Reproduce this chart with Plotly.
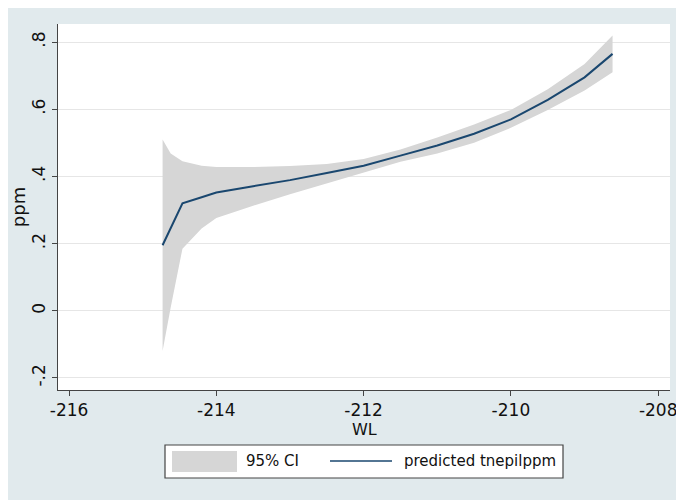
import plotly.graph_objects as go

# values
wl = [-214.73, -214.62, -214.46, -214.2, -214.0, -213.5, -213.0, -212.5,
      -212.0, -211.5, -211.0, -210.5, -210.0, -209.5, -209.0, -208.62]
predicted = [0.195, 0.245, 0.320, 0.338, 0.352, 0.371, 0.389, 0.410,
             0.432, 0.462, 0.492, 0.527, 0.570, 0.628, 0.695, 0.765]
ci_upper = [0.510, 0.468, 0.445, 0.432, 0.428, 0.428, 0.431, 0.437,
            0.452, 0.480, 0.516, 0.555, 0.598, 0.660, 0.735, 0.820]
ci_lower = [-0.120, 0.010, 0.185, 0.245, 0.276, 0.313, 0.347, 0.380,
            0.412, 0.444, 0.468, 0.500, 0.545, 0.598, 0.656, 0.710]

y_ticks = [-0.2, 0, 0.2, 0.4, 0.6, 0.8]
y_tick_labels = ["-.2", "0", ".2", ".4", ".6", ".8"]
x_ticks = [-216, -214, -212, -210, -208]

BG = "#e1eaed"
BAND = "#d6d6d6"
NAVY = "#1a476f"
AXIS = "#444444"
FONT = "DejaVu Sans"

# page has an 8px body margin; figure is 676x492
W, H = 676, 492
L, R, T, B = 50, 14, 16, 110
PW, PH = W - L - R, H - T - B
OFF = 8


def px_x(px):
    return (px - OFF - L) / PW


def px_y(py):
    return (H - B - (py - OFF)) / PH


fig = go.Figure()

fig.add_trace(
    go.Scatter(
        x=wl + wl[::-1],
        y=ci_upper + ci_lower[::-1],
        fill="toself",
        fillcolor=BAND,
        line=dict(width=0),
        mode="lines",
        name="95% CI",
        hoverinfo="skip",
    )
)
fig.add_trace(
    go.Scatter(
        x=wl,
        y=predicted,
        mode="lines",
        line=dict(color=NAVY, width=2),
        name="predicted tnepilppm",
    )
)

# hand-drawn legend, Stata style
shapes = [
    dict(type="rect", xref="paper", yref="paper",
         x0=px_x(165), x1=px_x(563), y0=px_y(478), y1=px_y(445),
         fillcolor="white", line=dict(color=AXIS, width=1.2)),
    dict(type="rect", xref="paper", yref="paper",
         x0=px_x(172), x1=px_x(237), y0=px_y(472), y1=px_y(451),
         fillcolor=BAND, line=dict(width=0)),
    dict(type="line", xref="paper", yref="paper",
         x0=px_x(330), x1=px_x(392), y0=px_y(461), y1=px_y(461),
         line=dict(color=NAVY, width=1.5)),
]

annotations = [
    # x axis title sits tight under the tick labels
    dict(text="WL", xref="paper", yref="paper", x=0.5, y=px_y(429),
         xanchor="center", yanchor="middle", showarrow=False,
         font=dict(family=FONT, size=16, color="#111")),
    dict(text="95% CI", xref="paper", yref="paper", x=px_x(244), y=px_y(461),
         xanchor="left", yanchor="middle", showarrow=False,
         font=dict(family=FONT, size=15, color="#111")),
    dict(text="predicted tnepilppm", xref="paper", yref="paper",
         x=px_x(402), y=px_y(461), xanchor="left", yanchor="middle",
         showarrow=False, font=dict(family=FONT, size=15, color="#111")),
]

fig.update_layout(
    width=W,
    height=H,
    margin=dict(l=L, r=R, t=T, b=B, pad=0, autoexpand=False),
    paper_bgcolor=BG,
    plot_bgcolor="white",
    showlegend=False,
    shapes=shapes,
    annotations=annotations,
    font=dict(family=FONT, size=17, color="#111"),
    xaxis=dict(
        range=[-216.15, -207.84],
        tickvals=x_ticks,
        ticktext=[str(v) for v in x_ticks],
        showgrid=False,
        zeroline=False,
        showline=True,
        linecolor=AXIS,
        linewidth=1,
        ticks="outside",
        ticklen=5,
        tickcolor=AXIS,
        automargin=False,
    ),
    yaxis=dict(
        range=[-0.236, 0.854],
        tickvals=y_ticks,
        ticktext=y_tick_labels,
        tickangle=-90,
        showgrid=True,
        gridcolor="#e6e6e6",
        gridwidth=1,
        zeroline=False,
        showline=True,
        linecolor=AXIS,
        linewidth=1,
        ticks="outside",
        ticklen=5,
        tickcolor=AXIS,
        automargin=False,
        title=dict(text="ppm", standoff=4, font=dict(size=18)),
    ),
)

fig.write_html("out.html")
